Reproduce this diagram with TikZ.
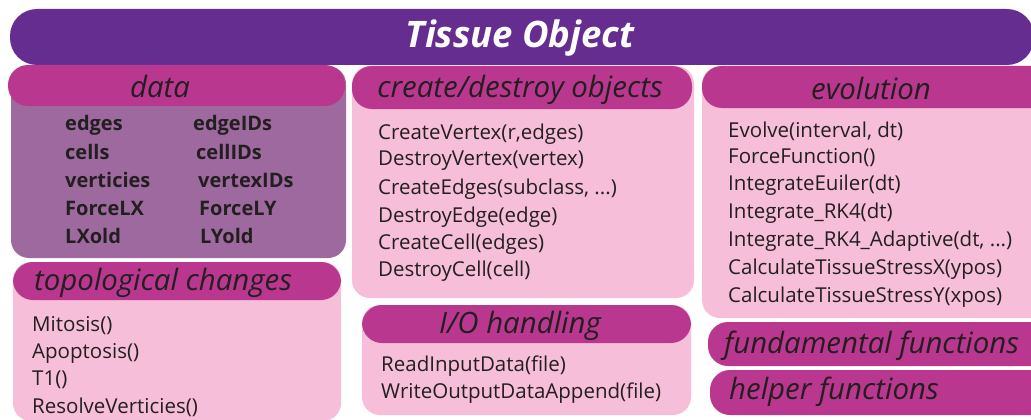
\documentclass[tikz,border=0pt]{standalone}
\usepackage{fontspec}
\setmainfont{Open Sans}
\definecolor{titlepurple}{HTML}{652D90}
\definecolor{headmag}{HTML}{B9378F}
\definecolor{databody}{HTML}{9E699F}
\definecolor{pinkbody}{HTML}{F7BED9}
\definecolor{txt}{HTML}{231F20}
\tikzset{
  bodybox/.style={fill=pinkbody,rounded corners=18pt},
  databox/.style={fill=databody,rounded corners=18pt},
  headbox/.style={fill=headmag,rounded corners=20pt},
  headtxt/.style={text=txt,font=\fontsize{29.4}{34}\selectfont\itshape,inner sep=0pt},
  itemtxt/.style={text=txt,font=\fontsize{20.5}{24}\selectfont,anchor=west,inner sep=0pt},
  datatxt/.style={text=txt,font=\fontsize{20}{24}\selectfont\bfseries,anchor=west,inner sep=0pt},
}
\begin{document}
\begin{tikzpicture}[x=1pt,y=-1pt]
\useasboundingbox (0,0) rectangle (1031,420);
\fill[white] (0,0) rectangle (1031,420);
% title bar
\fill[titlepurple,rounded corners=27pt] (10,9) rectangle (1034,65);
\node[text=white,font=\fontsize{36.5}{42}\selectfont\bfseries\itshape,inner sep=0pt] (title) at (520,38) {Tissue Object};
% data
\fill[databox] (11,66) rectangle (346,258);
\fill[headbox] (8,65) rectangle (345,106);
\node[headtxt] (datah) at (160,86) {data};
\node[datatxt] (d1) at (65,125) {edges};
\node[datatxt] (d2) at (65,152) {cells};
\node[datatxt] (d3) at (65,180) {verticies};
\node[datatxt] (d4) at (65,208) {ForceLX};
\node[datatxt] (d5) at (65,236) {LXold};
\node[datatxt] (e1) at (193,125) {edgeIDs};
\node[datatxt] (e2) at (196,152) {cellIDs};
\node[datatxt] (e3) at (198,180) {vertexIDs};
\node[datatxt] (e4) at (199,208) {ForceLY};
\node[datatxt] (e5) at (200,236) {LYold};
% topological changes
\fill[bodybox] (13,262) rectangle (341,421);
\fill[headbox] (13,262) rectangle (341,300);
\node[headtxt,anchor=west] (toph) at (34,283) {topological changes};
\node[itemtxt] (t1) at (32,326) {Mitosis()};
\node[itemtxt] (t2) at (32,353) {Apoptosis()};
\node[itemtxt] (t3) at (32,380) {T1()};
\node[itemtxt] (t4) at (32,407) {ResolveVerticies()};
% create/destroy
\fill[bodybox] (352,66) rectangle (694,298);
\fill[headbox] (352,66) rectangle (692,109);
\node[headtxt] (cdh) at (520,90) {create/destroy objects};
\node[itemtxt] (c1) at (378,134) {CreateVertex(r,edges)};
\node[itemtxt] (c2) at (378,161) {DestroyVertex(vertex)};
\node[itemtxt] (c3) at (378,189) {CreateEdges(subclass, ...)};
\node[itemtxt] (c4) at (378,217) {DestroyEdge(edge)};
\node[itemtxt] (c5) at (378,244) {CreateCell(edges)};
\node[itemtxt] (c6) at (378,271) {DestroyCell(cell)};
% I/O handling
\fill[bodybox] (362,305) rectangle (691,415);
\fill[headbox] (362,305) rectangle (691,343);
\node[headtxt] (ioh) at (520,326) {I/O handling};
\node[itemtxt] (i1) at (381,366) {ReadInputData(file)};
\node[itemtxt] (i2) at (381,393) {WriteOutputDataAppend(file)};
% evolution
\fill[bodybox] (702,66) rectangle (1055,318);
\fill[headbox] (702,66) rectangle (1055,108);
\node[headtxt] (evh) at (871,88) {evolution};
\node[itemtxt] (v1) at (728,131) {Evolve(interval, dt)};
\node[itemtxt] (v2) at (728,158) {ForceFunction()};
\node[itemtxt] (v3) at (728,185) {IntegrateEuiler(dt)};
\node[itemtxt] (v4) at (728,213) {Integrate\_RK4(dt)};
\node[itemtxt] (v5) at (728,241) {Integrate\_RK4\_Adaptive(dt, ...)};
\node[itemtxt] (v6) at (728,269) {CalculateTissueStressX(ypos)};
\node[itemtxt] (v7) at (728,297) {CalculateTissueStressY(xpos)};
% fundamental / helper
\fill[headbox] (708,322) rectangle (1052,366);
\node[headtxt,anchor=west] (fund) at (724,346) {fundamental functions};
\fill[headbox] (710,370) rectangle (1052,415);
\node[headtxt,anchor=west] (help) at (729,392) {helper functions};
\end{tikzpicture}
\end{document}
